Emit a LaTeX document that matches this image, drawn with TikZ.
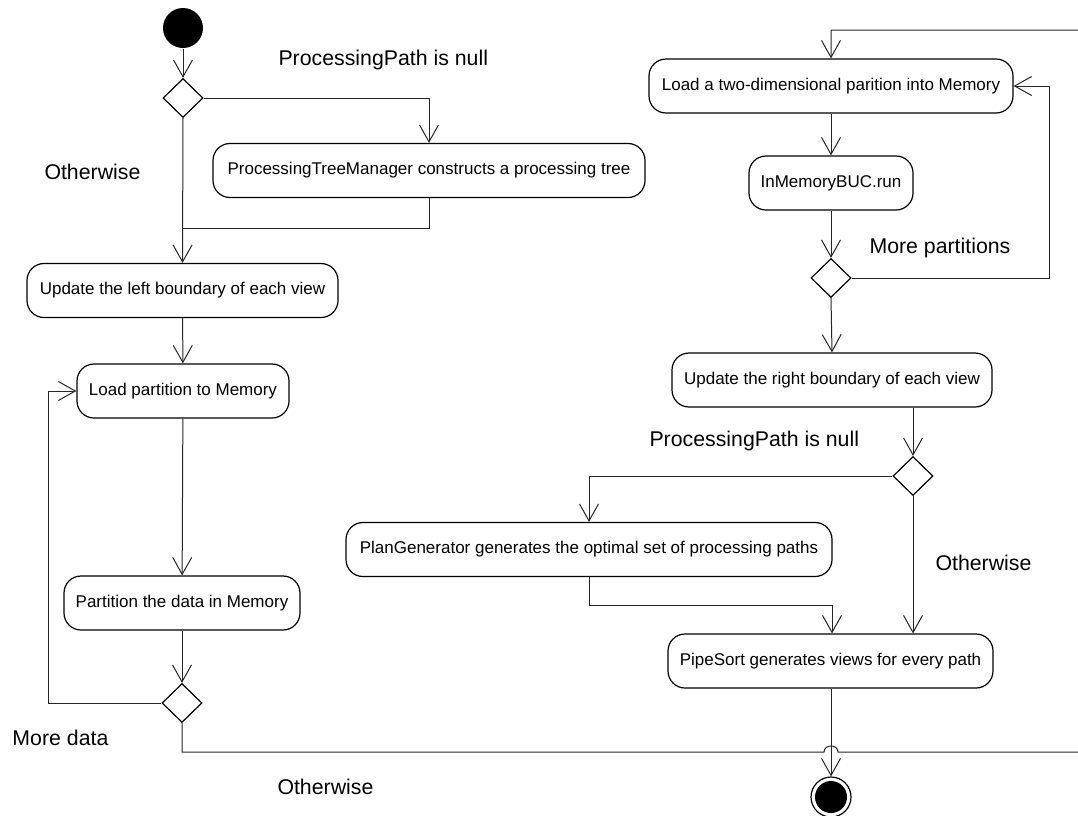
\documentclass[tikz,border=0pt]{standalone}
\usepackage{fontspec}
\setmainfont{Liberation Sans}
\usetikzlibrary{shapes.geometric,arrows.meta}
\begin{document}
\begin{tikzpicture}[x=1pt,y=-1pt,
  line width=1pt,
  flow/.style={draw=black!85, line width=1pt},
  arr/.style={flow, -{Straight Barb[length=17pt,width=19pt,line width=1pt]}},
  act/.style={draw=black, line width=1.2pt, rounded corners=17pt, inner sep=0pt,
    minimum height=54pt, align=center, font=\fontsize{17}{20}\selectfont},
  choice/.style={diamond, draw=black, line width=1.2pt, inner sep=0pt,
    minimum width=40pt, minimum height=39pt},
  guard/.style={anchor=west, inner sep=0pt, font=\fontsize{21.3}{25}\selectfont}]
\useasboundingbox (0,0) rectangle (1078,815);

% initial and final states
\node[circle, fill=black, minimum size=40pt, inner sep=0pt] (start) at (183,28) {};
\node[circle, draw=black, line width=1.2pt, minimum size=40pt, inner sep=0pt] (final) at (831,797) {};
\node[circle, fill=black, minimum size=32pt, inner sep=0pt] (finalin) at (831,797) {};

% decisions
\node[choice] (d1) at (183,98) {};
\node[choice] (d2) at (831,278) {};
\node[choice] (d3) at (182,703) {};
\node[choice] (d4) at (913,476) {};

% actions
\node[act, minimum width=432pt] (b1) at (429,170.5) {ProcessingTreeManager constructs a processing tree};
\node[act, minimum width=311pt] (b2) at (182.5,290.5) {Update the left boundary of each view};
\node[act, minimum width=212pt] (b3) at (183,391) {Load partition to Memory};
\node[act, minimum width=236pt] (b4) at (182,603) {Partition the data in Memory};
\node[act, minimum width=364pt] (b5) at (831,86) {Load a two-dimensional parition into Memory};
\node[act, minimum width=164pt] (b6) at (831,183) {InMemoryBUC.run};
\node[act, minimum width=320pt] (b7) at (832,380) {Update the right boundary of each view};
\node[act, minimum width=486pt] (b8) at (589,549.5) {PlanGenerator generates the optimal set of processing paths};
\node[act, minimum width=325pt] (b9) at (830.5,661) {PipeSort generates views for every path};

% guards
\node[guard] (g1) at (278,60) {ProcessingPath is null};
\node[guard] (g2) at (44,172) {Otherwise};
\node[guard] (g3) at (869,248) {More partitions};
\node[guard] (g4) at (649,441) {ProcessingPath is null};
\node[guard] (g5) at (935,563) {Otherwise};
\node[guard] (g6) at (12,738) {More data};
\node[guard] (g7) at (277,787) {Otherwise};

% routing points
\coordinate (m1) at (183,228);
\coordinate (m2) at (832,605);
\coordinate (loopL) at (48,703);
\coordinate (loopR) at (1049,278);
\coordinate (jumpA) at (824,752);
\coordinate (jumpB) at (838,752);
\coordinate (edgeR) at (1082,752);
\coordinate (topR) at (1082,30);
\coordinate (topL) at (831,30);

% left column
\draw[arr] (start) -- (d1);
\draw[arr] (d1.east) -| (b1.north);
\draw[flow] (b1.south) |- (m1);
\draw[arr] (d1.south) -- (b2.north);
\draw[arr] (b2) -- (b3);
\draw[arr] (b3) -- (b4);
\draw[arr] (b4) -- (d3);
\draw[arr] (d3.west) -- (loopL) |- (b3.west);

% long return path into the right column, jumping over the final flow
\draw[arr] (d3.south) |- (jumpA) .. controls (824,744) and (838,744) .. (jumpB)
  -- (edgeR) -- (topR) -- (topL) -- (b5.north);

% right column
\draw[arr] (b5) -- (b6);
\draw[arr] (b6) -- (d2);
\draw[arr] (d2.east) -- (loopR) |- (b5.east);
\draw[arr] (d2.south) -- (b7.north);
\draw[arr] (b7.south -| d4.north) -- (d4.north);
\draw[arr] (d4.west) -| (b8.north);
\draw[flow] (b8.south) |- (m2);
\draw[arr] (m2) -- (m2 |- b9.north);
\draw[arr] (d4.south) -- (d4.south |- b9.north);
\draw[arr] (b9.south -| final.north) -- (final.north);
\end{tikzpicture}
\end{document}
